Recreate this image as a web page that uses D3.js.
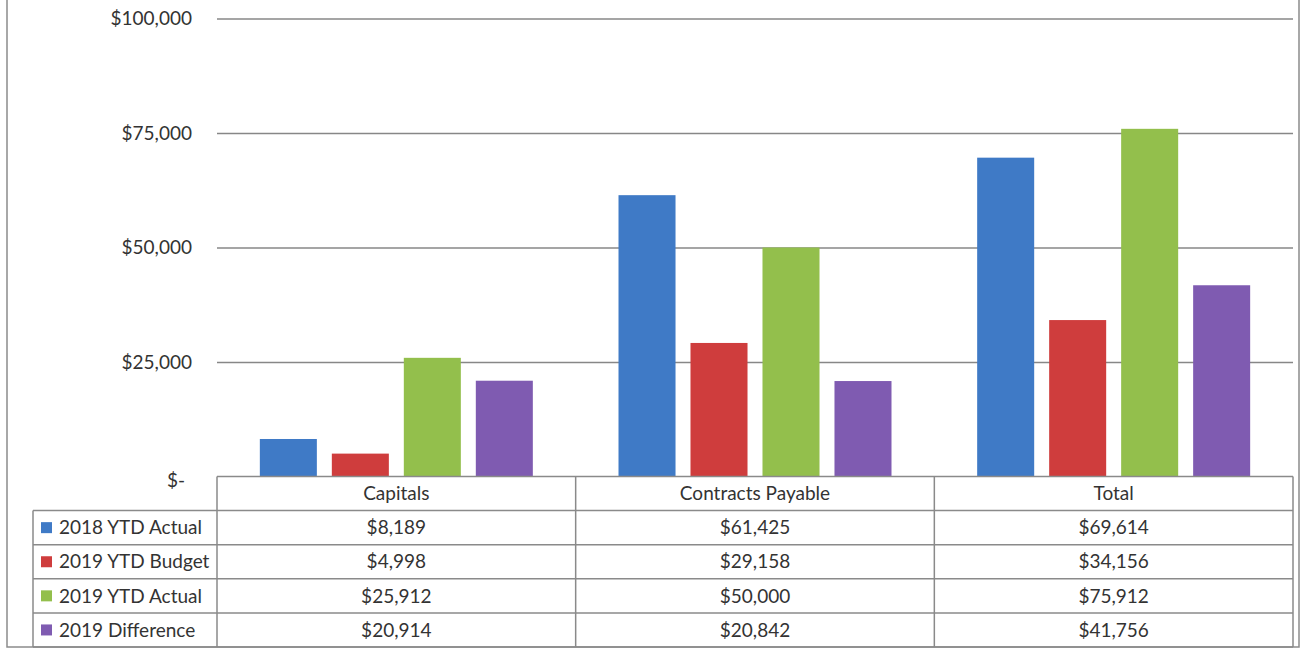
<!DOCTYPE html>
<html>
<head>
<meta charset="utf-8">
<script src="https://cdn.jsdelivr.net/npm/d3@7"></script>
<style>
  html, body { margin: 0; padding: 0; background: #fff; }
  svg { display: block; }
  text { font-family: Lato, "Open Sans", sans-serif; fill: #333; }
</style>
</head>
<body>
<svg id="chart" width="1300" height="648"></svg>
<script>
// Categories shown along the bottom of the chart / table columns
const categories = ["Capitals", "Contracts Payable", "Total"];

// Series names (rows of the data table)
const seriesNames = ["2018 YTD Actual", "2019 YTD Budget", "2019 YTD Actual", "2019 Difference"];

// Values per series, in category order
const actual2018 = [8189, 61425, 69614];
const budget2019 = [4998, 29158, 34156];
const actual2019 = [25912, 50000, 75912];
const difference2019 = [20914, 20842, 41756];

// Y axis tick values
const yTicks = [0, 25000, 50000, 75000, 100000];

const seriesColors = ["#3f7ac6", "#cf3d3d", "#93bf4c", "#7f5bb1"];

const seriesValues = [actual2018, budget2019, actual2019, difference2019];

const svg = d3.select("#chart");

// Plot geometry
const plotLeft = 217, plotRight = 1293;
const plotTop = 18.5, plotBottom = 476.5;
const tableBottom = 647;
const legendLeft = 33;

const y = d3.scaleLinear().domain([0, 100000]).range([plotBottom, plotTop]);

const x0 = d3.scaleBand().domain(categories).range([plotLeft, plotRight]).padding(0);
const x1 = d3.scaleBand().domain(seriesNames).range([0, x0.bandwidth()])
  .paddingInner(0.208).paddingOuter(0.595);

// Outer frame of the chart area
svg.append("path")
  .attr("d", `M7,-2 V${tableBottom} H1299 V-2`)
  .attr("fill", "none")
  .attr("stroke", "#8c8c8c")
  .attr("stroke-width", 1.5);

// Horizontal gridlines
const grid = svg.append("g")
  .attr("transform", `translate(${plotLeft},0)`)
  .call(d3.axisLeft(y).tickValues(yTicks).tickSize(-(plotRight - plotLeft)).tickFormat(""));
grid.select(".domain").remove();
grid.selectAll(".tick line").attr("stroke", "#878787").attr("stroke-width", 1.5);

// Y axis labels in accounting style
const fmt = d3.format(",");
const yAxis = svg.append("g")
  .attr("transform", `translate(${plotLeft},0)`)
  .call(d3.axisLeft(y).tickValues(yTicks).tickSize(0).tickPadding(25)
    .tickFormat(d => d === 0 ? "$-" : "$" + fmt(d)));
yAxis.select(".domain").remove();
yAxis.selectAll(".tick text")
  .style("font-family", "Lato, 'Open Sans', sans-serif")
  .style("font-size", "19px")
  .attr("fill", "#333")
  .attr("dx", d => d === 0 ? -7 : 0)
  .attr("dy", d => d === 0 ? "0.55em" : "0.32em");

// Bars
const rows = categories.map((c, ci) => ({
  category: c,
  values: seriesNames.map((s, si) => ({ series: s, index: si, value: seriesValues[si][ci] }))
}));

const groups = svg.append("g").selectAll("g")
  .data(rows)
  .join("g")
  .attr("transform", d => `translate(${x0(d.category)},0)`);

groups.selectAll("rect")
  .data(d => d.values)
  .join("rect")
  .attr("x", d => x1(d.series))
  .attr("width", x1.bandwidth())
  .attr("y", d => y(d.value))
  .attr("height", d => y(0) - y(d.value))
  .attr("fill", d => seriesColors[d.index]);

// Data table under the plot
const rowH = (tableBottom - plotBottom) / (seriesNames.length + 1);
const table = svg.append("g");
const lineColor = "#8a8a8a";
const tableFont = "19px";

table.append("rect")
  .attr("x", plotLeft).attr("y", plotBottom)
  .attr("width", plotRight - plotLeft).attr("height", rowH)
  .attr("fill", "#fff");

// Horizontal rules
table.append("line")
  .attr("x1", plotLeft).attr("x2", plotRight)
  .attr("y1", plotBottom).attr("y2", plotBottom)
  .attr("stroke", lineColor).attr("stroke-width", 1.5);
d3.range(1, seriesNames.length + 2).forEach(i => {
  table.append("line")
    .attr("x1", legendLeft).attr("x2", plotRight)
    .attr("y1", plotBottom + i * rowH).attr("y2", plotBottom + i * rowH)
    .attr("stroke", lineColor).attr("stroke-width", 1.5);
});

// Vertical rules
table.append("line")
  .attr("x1", legendLeft).attr("x2", legendLeft)
  .attr("y1", plotBottom + rowH).attr("y2", tableBottom)
  .attr("stroke", lineColor).attr("stroke-width", 1.5);
categories.forEach(c => {
  table.append("line")
    .attr("x1", x0(c)).attr("x2", x0(c))
    .attr("y1", plotBottom).attr("y2", tableBottom)
    .attr("stroke", lineColor).attr("stroke-width", 1.5);
});
table.append("line")
  .attr("x1", plotRight).attr("x2", plotRight)
  .attr("y1", plotBottom).attr("y2", tableBottom)
  .attr("stroke", lineColor).attr("stroke-width", 1.5);

// Column headers
table.selectAll("text.header")
  .data(categories)
  .join("text")
  .attr("class", "header")
  .attr("x", d => x0(d) + x0.bandwidth() / 2)
  .attr("y", plotBottom + rowH / 2)
  .attr("dy", "0.35em")
  .attr("text-anchor", "middle")
  .style("font-size", tableFont)
  .text(d => d);

// Legend cells (key + series name) and values
seriesNames.forEach((s, si) => {
  const cy = plotBottom + (si + 1) * rowH + rowH / 2;
  table.append("rect")
    .attr("x", 41).attr("y", cy - 5.5)
    .attr("width", 11).attr("height", 11)
    .attr("fill", seriesColors[si]);
  table.append("text")
    .attr("x", 59).attr("y", cy)
    .attr("dy", "0.35em")
    .style("font-size", tableFont)
    .text(s);
  categories.forEach((c, ci) => {
    table.append("text")
      .attr("x", x0(c) + x0.bandwidth() / 2)
      .attr("y", cy)
      .attr("dy", "0.35em")
      .attr("text-anchor", "middle")
      .style("font-size", tableFont)
      .text("$" + fmt(seriesValues[si][ci]));
  });
});
</script>
</body>
</html>
